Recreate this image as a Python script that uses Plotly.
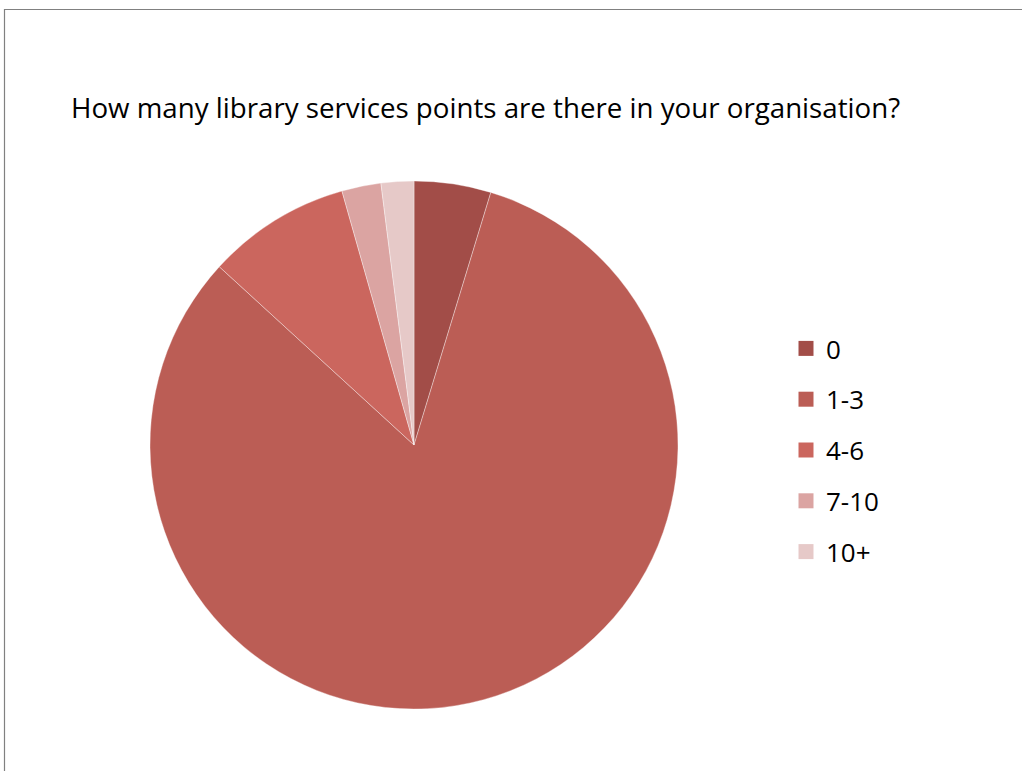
import plotly.graph_objects as go

categories = ["0", "1-3", "4-6", "7-10", "10+"]
values = [4.7, 82.1, 8.8, 2.4, 2.0]
colors = ["#A24D48", "#BB5D55", "#CB665E", "#DBA4A2", "#E6C9C8"]
title_text = "How many library services points are there in your organisation?"

W, H = 1022, 771

fig = go.Figure()
fig.add_trace(go.Pie(
    labels=categories, values=values, sort=False, direction="clockwise",
    rotation=0, textinfo="none", hoverinfo="label+percent",
    marker=dict(colors=colors, line=dict(color="rgba(255,255,255,0.6)", width=0.6)),
    domain=dict(x=[150 / W, 678 / W], y=[1 - 709 / H, 1 - 181 / H]),
    showlegend=False,
))
for i, (c, col) in enumerate(zip(categories, colors)):
    fig.add_trace(go.Scatter(
        x=[None], y=[None], mode="markers", name=c,
        marker=dict(symbol="square", size=15, color=col),
        legendgroup=f"g{i}", showlegend=True,
    ))

fig.update_layout(
    width=W, height=H,
    margin=dict(l=0, r=0, t=0, b=0),
    paper_bgcolor="white", plot_bgcolor="white",
    xaxis=dict(visible=False), yaxis=dict(visible=False),
    font=dict(family="Open Sans, sans-serif", color="#000000"),
    legend=dict(x=786 / W, xanchor="left", y=1 - 325 / H, yanchor="top",
                font=dict(size=26), tracegroupgap=14, bgcolor="rgba(0,0,0,0)"),
    annotations=[dict(text=title_text, x=69 / W, y=1 - 107 / H, xref="paper", yref="paper",
                      xanchor="left", yanchor="middle", showarrow=False,
                      font=dict(size=27.7, color="#000000"))],
    shapes=[dict(type="rect", xref="paper", yref="paper",
                 x0=4.5 / W, x1=1.05, y0=-0.05, y1=1 - 9.5 / H,
                 line=dict(color="#808080", width=1.2), fillcolor="rgba(0,0,0,0)")],
)
fig.write_html("out.html")
